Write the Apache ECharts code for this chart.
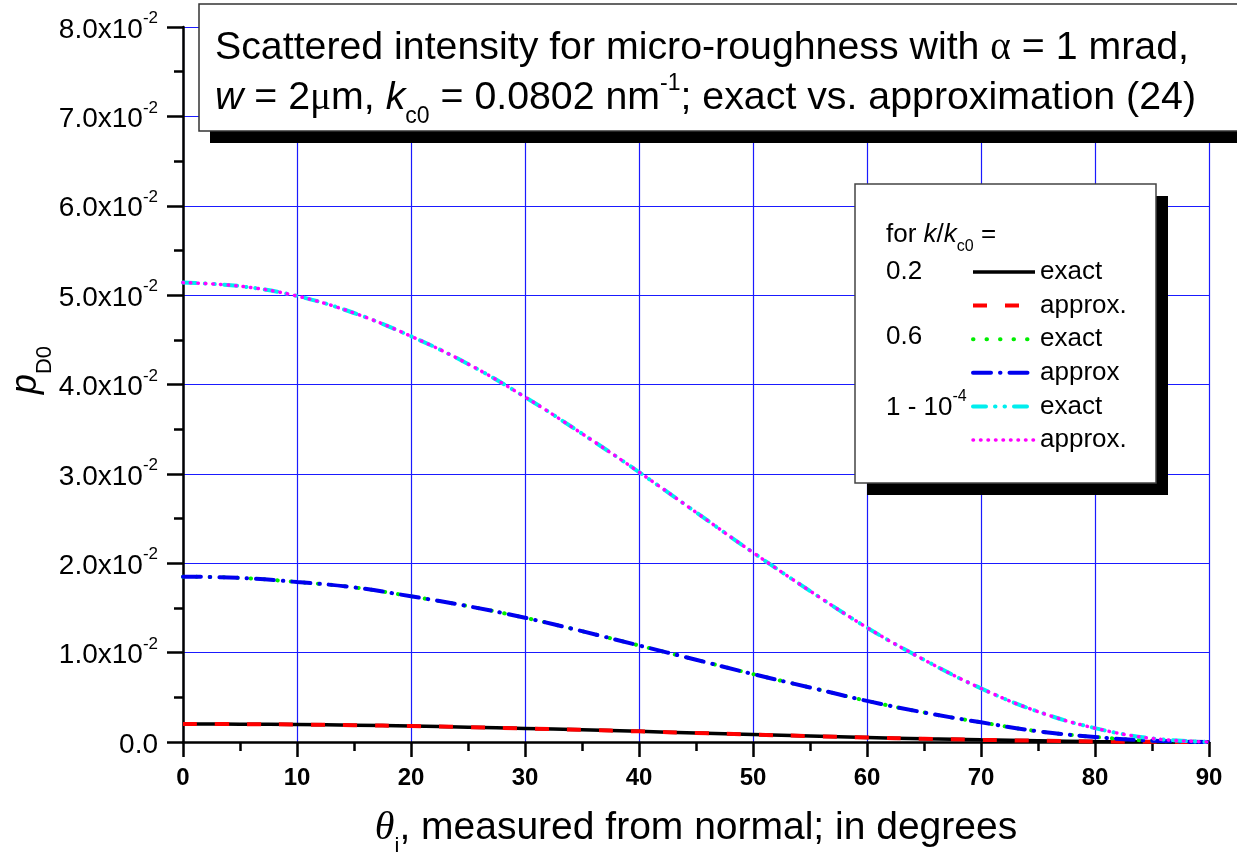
<!DOCTYPE html>
<html><head><meta charset="utf-8">
<script src="https://cdn.jsdelivr.net/npm/echarts@6/dist/echarts.min.js"></script>
<style>html,body{margin:0;padding:0;background:#fff}#c{width:1237px;height:852px}</style>
</head><body><div id="c"></div>
<script>
// incidence angle (degrees)
const theta = [0,5,10,15,20,25,30,35,40,45,50,55,60,65,70,75,80,85,90];
// k/kc0 = 0.2
const k02Exact  = [0.00202,0.00200,0.00196,0.00188,0.00178,0.00166,0.00152,0.00136,0.00119,0.00101,0.00083,0.00066,0.00050,0.00036,0.00024,0.00014,0.00006,0.00002,0];
const k02Approx = [0.00202,0.00200,0.00196,0.00188,0.00178,0.00166,0.00152,0.00136,0.00119,0.00101,0.00083,0.00066,0.00050,0.00036,0.00024,0.00014,0.00006,0.00002,0];
// k/kc0 = 0.6
const k06Exact  = [0.0185,0.01836,0.0179,0.0173,0.0163,0.0152,0.0139,0.0124,0.0108,0.0092,0.0076,0.0061,0.0046,0.0033,0.0022,0.0012,0.00056,0.00014,0];
const k06Approx = [0.0185,0.01836,0.0179,0.0173,0.0163,0.0152,0.0139,0.0124,0.0108,0.0092,0.0076,0.0061,0.0046,0.0033,0.0022,0.0012,0.00056,0.00014,0];
// k/kc0 = 1 - 1e-4
const k1Exact   = [0.0514,0.0510,0.0499,0.0480,0.0454,0.0423,0.0386,0.0345,0.0302,0.0257,0.0212,0.0169,0.0128,0.0092,0.0060,0.0034,0.00155,0.0004,0];
const k1Approx  = [0.0514,0.0510,0.0499,0.0480,0.0454,0.0423,0.0386,0.0345,0.0302,0.0257,0.0212,0.0169,0.0128,0.0092,0.0060,0.0034,0.00155,0.0004,0];

const seriesNames = ['0.2 exact','0.2 approx.','0.6 exact','0.6 approx','1e-4 exact','1e-4 approx.'];
const seriesData = [k02Exact,k02Approx,k06Exact,k06Approx,k1Exact,k1Approx];
const seriesColors = ['#000000','#ff0000','#00ee00','#0000ee','#00eeee','#ff00ff'];
const seriesDash = ['solid',[14,18],[0.5,13],[18,9,0.5,9],[13,9,0.5,9,0.5,9],[0.5,7]];
const seriesWidth = [3.5,4,4,4,4,3.5];
const seriesCap = ['butt','butt','round','round','round','round'];

const F = '"Liberation Sans", Arial, sans-serif';
const S = '"Liberation Serif", "DejaVu Serif", serif';

const chart = echarts.init(document.getElementById('c'), null, {renderer:'canvas'});

const series = seriesNames.map((n,i)=>({
  name:n, type:'line', symbol:'none', showSymbol:false, smooth:0.4,
  data: theta.map((t,j)=>[t, seriesData[i][j]]),
  lineStyle:{color:seriesColors[i], width:seriesWidth[i], type:seriesDash[i], cap:seriesCap[i]},
  itemStyle:{color:seriesColors[i]},
  z: 2+i, animation:false
}));

chart.setOption({
  animation:false,
  backgroundColor:'#fff',
  grid:{left:183, right:28, top:27, bottom:110, containLabel:false, outerBoundsMode:'none'},
  xAxis:{
    type:'value', min:0, max:90, interval:10,
    axisLine:{show:true, onZero:false, lineStyle:{color:'#000', width:2.5}},
    axisTick:{show:true, inside:false, length:15, lineStyle:{color:'#000', width:2.5}},
    minorTick:{show:true, splitNumber:2, length:9, lineStyle:{color:'#000', width:2.5}},
    splitLine:{show:true, lineStyle:{color:'#1a1aff', width:1.2}},
    axisLabel:{margin:24, fontFamily:F, fontWeight:'bold', fontSize:24, color:'#000'},
    name:'{t|θ}{sub|i}{n|, measured from normal; in degrees}',
    nameLocation:'middle', nameGap:60,
    nameTextStyle:{rich:{
      t:{fontFamily:S, fontStyle:'italic', fontSize:40, color:'#000', lineHeight:46, verticalAlign:'bottom'},
      sub:{fontFamily:F, fontSize:22, color:'#000', lineHeight:46, verticalAlign:'bottom', padding:[0,0,-10,0]},
      n:{fontFamily:F, fontSize:39, color:'#000', lineHeight:46, verticalAlign:'bottom'}
    }}
  },
  yAxis:{
    type:'value', min:0, max:0.08, interval:0.01,
    axisLine:{show:true, onZero:false, lineStyle:{color:'#000', width:2.5}},
    axisTick:{show:true, inside:false, length:16, lineStyle:{color:'#000', width:2.5}},
    minorTick:{show:true, splitNumber:2, length:9, lineStyle:{color:'#000', width:2.5}},
    splitLine:{show:true, lineStyle:{color:'#1a1aff', width:1.2}},
    axisLabel:{margin:25, color:'#000',
      formatter:v=> v===0 ? '{b|0.0}' : '{b|'+(v*100).toFixed(1)+'x10}{s|-2}',
      rich:{
        b:{fontFamily:F, fontSize:28, color:'#000', lineHeight:34, verticalAlign:'bottom'},
        s:{fontFamily:F, fontSize:17, color:'#000', lineHeight:34, verticalAlign:'top'}
      }}
  },
  legend:{
    orient:'vertical', left:966, top:254, itemWidth:62, itemHeight:14, itemGap:7.6,
    data:[
      {name:seriesNames[0], lineStyle:{width:3.5}},
      {name:seriesNames[1], lineStyle:{width:4}},
      {name:seriesNames[2], lineStyle:{width:4}},
      {name:seriesNames[3], lineStyle:{width:4}},
      {name:seriesNames[4], lineStyle:{width:4}},
      {name:seriesNames[5], lineStyle:{width:3.5}}
    ],
    itemStyle:{opacity:0},
    selectedMode:false, z:20,
    formatter:n=>n.slice(n.indexOf(' ')+1),
    textStyle:{fontFamily:F, fontSize:26, color:'#000'}
  },
  graphic:[
    // title box with shadow
    {type:'rect', z:50, shape:{x:210, y:16, width:1100, height:127}, style:{fill:'#000'}},
    {type:'rect', z:51, shape:{x:199, y:4, width:1100, height:127}, style:{fill:'#fff', stroke:'#333', lineWidth:1.5}},
    {type:'text', z:52, x:215, y:45, style:{
      text:'{n|Scattered intensity for micro-roughness with }{g|α}{n| = 1 mrad,}',
      verticalAlign:'middle',
      rich:{n:{fontFamily:F, fontSize:39.3, fill:'#000', lineHeight:46, verticalAlign:'bottom'},
            g:{fontFamily:S, fontSize:39.3, fill:'#000', lineHeight:46, verticalAlign:'bottom'}}
    }},
    {type:'text', z:52, x:215, y:95, style:{
      text:'{i|w}{n| = 2}{g|μ}{n|m, }{i|k}{sub|c0}{n| = 0.0802 nm}{sup|-1}{n|; exact vs. approximation (24)}',
      verticalAlign:'middle',
      rich:{n:{fontFamily:F, fontSize:39.3, fill:'#000', lineHeight:46, verticalAlign:'bottom'},
            i:{fontFamily:F, fontStyle:'italic', fontSize:39.3, fill:'#000', lineHeight:46, verticalAlign:'bottom'},
            g:{fontFamily:S, fontSize:39.3, fill:'#000', lineHeight:46, verticalAlign:'bottom'},
            sub:{fontFamily:F, fontSize:23, fill:'#000', lineHeight:46, verticalAlign:'bottom', padding:[0,0,-10,0]},
            sup:{fontFamily:F, fontSize:23, fill:'#000', lineHeight:46, verticalAlign:'top'}}
    }},
    // legend box with shadow
    {type:'rect', z:8, shape:{x:867, y:196, width:301, height:299}, style:{fill:'#000'}},
    {type:'rect', z:9, shape:{x:855, y:184, width:301, height:299}, style:{fill:'#fff', stroke:'#444', lineWidth:1.5}},
    {type:'text', z:21, x:886, y:232, style:{
      text:'{n|for }{i|k}{n|/}{i|k}{sub|c0}{n| =}', verticalAlign:'middle',
      rich:{n:{fontFamily:F, fontSize:26, fill:'#000', lineHeight:32, verticalAlign:'bottom'},
            i:{fontFamily:F, fontStyle:'italic', fontSize:26, fill:'#000', lineHeight:32, verticalAlign:'bottom'},
            sub:{fontFamily:F, fontSize:16, fill:'#000', lineHeight:32, verticalAlign:'bottom', padding:[0,0,-7,0]}}
    }},
    {type:'text', z:21, x:886, y:272, style:{text:'0.2', fontFamily:F, fontSize:26, fill:'#000', verticalAlign:'middle'}},
    {type:'text', z:21, x:886, y:337, style:{text:'0.6', fontFamily:F, fontSize:26, fill:'#000', verticalAlign:'middle'}},
    {type:'text', z:21, x:886, y:405, style:{
      text:'{n|1 - 10}{sup|-4}', verticalAlign:'middle',
      rich:{n:{fontFamily:F, fontSize:26, fill:'#000', lineHeight:32, verticalAlign:'bottom'},
            sup:{fontFamily:F, fontSize:16, fill:'#000', lineHeight:32, verticalAlign:'top'}}
    }},
    // y-axis name
    {type:'text', z:30, x:24, y:370, rotation:Math.PI/2, style:{
      text:'{p|p}{sub|D0}', align:'center', verticalAlign:'middle',
      rich:{p:{fontFamily:F, fontStyle:'italic', fontSize:36, fill:'#000', lineHeight:40, verticalAlign:'bottom'},
            sub:{fontFamily:F, fontSize:22, fill:'#000', lineHeight:40, verticalAlign:'bottom', padding:[0,0,-12,0]}}
    }}
  ],
  series: series
});
</script></body></html>
